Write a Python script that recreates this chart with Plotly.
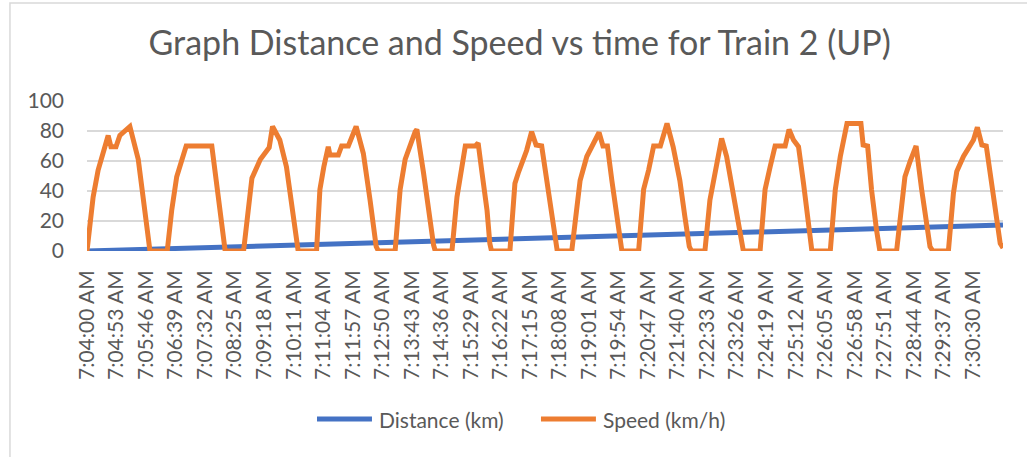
import pandas as pd
import plotly.graph_objects as go

TITULO = 'Graph Distance and Speed vs time for Train 2 (UP)'
INICIO = pd.Timestamp('2024-01-01 07:04:00')

# rótulos do eixo x (um a cada 53 s)
rotulos_tempo = [
    '7:04:00 AM', '7:04:53 AM', '7:05:46 AM', '7:06:39 AM', '7:07:32 AM', '7:08:25 AM',
    '7:09:18 AM', '7:10:11 AM', '7:11:04 AM', '7:11:57 AM', '7:12:50 AM', '7:13:43 AM',
    '7:14:36 AM', '7:15:29 AM', '7:16:22 AM', '7:17:15 AM', '7:18:08 AM', '7:19:01 AM',
    '7:19:54 AM', '7:20:47 AM', '7:21:40 AM', '7:22:33 AM', '7:23:26 AM', '7:24:19 AM',
    '7:25:12 AM', '7:26:05 AM', '7:26:58 AM', '7:27:51 AM', '7:28:44 AM', '7:29:37 AM',
    '7:30:30 AM',
]

# velocidade (segundos desde 7:04:00, km/h)
vel_seg = [
    0, 11, 20, 29, 38, 43, 52, 59, 68, 77, 92, 101, 110, 113,
    144, 152, 161, 170, 178, 224, 233, 242, 248,
    281, 290, 296, 311, 327, 333, 346, 358, 367, 376, 379,
    412, 418, 425, 433, 436, 451, 457, 469, 483, 496, 508, 519, 523,
    553, 562, 571, 589, 592, 604, 613, 622, 625,
    655, 664, 670, 679, 697, 702, 709, 718, 723, 726,
    759, 768, 774, 789, 798, 806, 816, 825, 834, 842, 844,
    870, 879, 885, 897, 906, 919, 926, 934, 942, 951, 960,
    990, 999, 1008, 1017, 1029, 1041, 1052, 1064, 1073, 1081, 1085,
    1109, 1118, 1127, 1139, 1148, 1160, 1172, 1178,
    1208, 1217, 1226, 1235, 1253, 1260, 1268, 1277, 1286, 1295, 1301,
    1334, 1343, 1352, 1364, 1389, 1393, 1401, 1408, 1417, 1423,
    1453, 1462, 1468, 1477, 1488, 1498, 1507, 1513, 1518,
    1546, 1555, 1561, 1573, 1585, 1591, 1598, 1606, 1614, 1624, 1634, 1639, 1644,
]
vel_kmh = [
    0, 36, 54, 65, 77, 69.5, 69.5, 77, 79.5, 83, 61, 34, 4, 0,
    0, 27, 49.5, 59.5, 70, 70, 45, 18.5, 0,
    0, 34, 48.5, 61, 69, 83, 74, 56, 32, 5, 0,
    0, 41, 56, 69.5, 64, 64, 70, 70, 83, 65, 34, 3, 0,
    0, 41, 61, 79.5, 81, 52, 27, 4, 0,
    0, 36, 52, 70, 70, 72, 52, 27, 5, 0,
    0, 45, 52, 67, 79.5, 70.7, 70, 47, 23, 3, 0,
    0, 32, 47, 63, 70, 79, 70, 70, 47, 23, 0,
    0, 41, 54, 70, 70, 85, 69.5, 47, 23, 3, 0,
    0, 34, 52, 75, 63, 38.5, 9.5, 0,
    0, 41, 56, 70, 70, 81, 74, 69.5, 45, 18.5, 0,
    0, 41, 63, 85, 85, 70.7, 70, 41, 14, 0,
    0, 29.5, 49.5, 59.5, 70, 41, 18.5, 3, 0,
    0, 38.5, 53, 63, 70, 74, 82.5, 70.7, 70, 45, 23, 5, 2,
]

# distância acumulada (segundos desde 7:04:00, km)
dist_seg = [0, 210, 418, 620, 813, 1010, 1208, 1430, 1644]
dist_km = [0, 2.2, 4.5, 6.8, 9.0, 11.0, 12.9, 15.1, 17.3]

CINZA = '#595959'
AZUL = '#4472C4'
LARANJA = '#ED7D31'
FONTE = 'Lato, Open Sans, sans-serif'


def para_tempo(segundos):
    return INICIO + pd.to_timedelta(segundos, unit='s')


ticks = pd.to_datetime(['2024-01-01 ' + r for r in rotulos_tempo], format='%Y-%m-%d %I:%M:%S %p')

fig = go.Figure()
fig.add_trace(go.Scatter(
    x=para_tempo(dist_seg), y=dist_km, mode='lines', name='Distance (km)',
    line=dict(color=AZUL, width=5)
))
fig.add_trace(go.Scatter(
    x=para_tempo(vel_seg), y=vel_kmh, mode='lines', name='Speed (km/h)',
    line=dict(color=LARANJA, width=5)
))

fig.update_layout(
    width=1027,
    height=457,
    margin=dict(l=87, r=24, t=101, b=206),
    paper_bgcolor='white',
    plot_bgcolor='white',
    font=dict(family=FONTE, color=CINZA, size=21),
    title=dict(text=TITULO, x=0.506, xref='container', xanchor='center',
               y=0.905, yref='container', yanchor='middle',
               font=dict(size=34, color=CINZA, family=FONTE)),
    showlegend=False,
)
fig.update_xaxes(
    type='date',
    range=[para_tempo(0), para_tempo(1644)],
    tickvals=ticks,
    ticktext=rotulos_tempo,
    tickangle=-90,
    ticklabelstandoff=14,
    showgrid=False,
    showline=False,
    zeroline=False,
)
fig.update_yaxes(
    range=[0, 100],
    dtick=20,
    showgrid=True,
    gridcolor='#d9d9d9',
    gridwidth=1.5,
    zeroline=False,
    ticklabelstandoff=22,
)

# moldura do gráfico
fig.add_shape(type='rect', xref='paper', yref='paper',
              x0=-0.0841, x1=1.0404, y0=-1.46, y1=1.6533,
              line=dict(color='#d9d9d9', width=1.5), layer='below')

# legenda desenhada à mão (linhas mais longas, como no Excel)
for nome, cor, x0 in [('Distance (km)', AZUL, 0.2511), ('Speed (km/h)', LARANJA, 0.4956)]:
    fig.add_shape(type='line', xref='paper', yref='paper',
                  x0=x0, x1=x0 + 0.06, y0=-1.12, y1=-1.12,
                  line=dict(color=cor, width=5))
    fig.add_annotation(xref='paper', yref='paper', x=x0 + 0.0655, y=-1.12,
                       xanchor='left', yanchor='middle', showarrow=False,
                       text=nome, font=dict(size=21, color=CINZA))

fig.write_html('out.html', config={'displayModeBar': False},
               post_script="document.body.style.margin='0';")
